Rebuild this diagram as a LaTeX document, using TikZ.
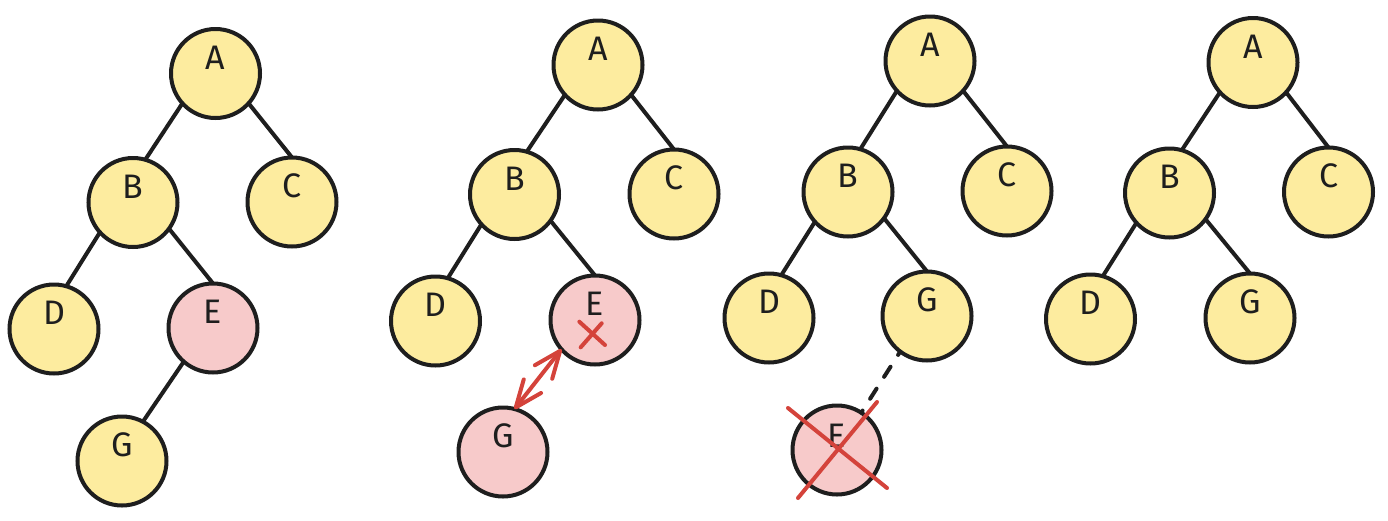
\documentclass[tikz,border=0pt]{standalone}
\usepackage{fontspec}
\setmainfont{Fira Sans}
\usetikzlibrary{arrows.meta}
\definecolor{ink}{HTML}{1E1E1E}
\definecolor{nodeyellow}{HTML}{FDEC9F}
\definecolor{nodepink}{HTML}{F7CACA}
\definecolor{markred}{HTML}{D4433B}
\tikzset{
  tnode/.style={circle, draw=ink, line width=4pt, minimum size=89pt, inner sep=0pt, outer sep=0pt,
    font=\fontsize{34}{40}\selectfont, text=ink, text height=24pt, text depth=32.6pt},
  yel/.style={tnode, fill=nodeyellow},
  pnk/.style={tnode, fill=nodepink},
  edge/.style={draw=ink, line width=4pt},
  gone/.style={draw=ink, line width=4pt, line cap=round, dash pattern=on 12pt off 14pt, dash phase=8pt},
  redmark/.style={draw=markred, line width=4pt, line cap=round},
  swap/.style={draw=markred, line width=4pt, line cap=round, line join=round,
    {Straight Barb[round, length=27pt, width=22pt]}-{Straight Barb[round, length=27pt, width=22pt]}}
}
\begin{document}
\begin{tikzpicture}[x=1pt,y=-1pt]
\useasboundingbox (0,0) rectangle (1388,520);
% ---------- tree 1
\node[yel] (A1) at (215.5,73.5) {A};
\node[yel] (B1) at (133,202.5) {B};
\node[yel] (C1) at (292,202) {C};
\node[yel] (D1) at (54,329) {D};
\node[pnk] (E1) at (213,328) {E};
\node[yel] (G1) at (122,461) {G};
\draw[edge] (A1.-138) -- (B1.74);
\draw[edge] (A1.-42) -- (C1.90);
\draw[edge] (B1.-138) -- (D1.74);
\draw[edge] (B1.-36) -- (E1.90);
\draw[edge] (E1.-131) -- (G1.62);
% ---------- tree 2
\node[yel] (A2) at (598,65) {A};
\node[yel] (B2) at (514.5,194.5) {B};
\node[yel] (C2) at (674,194) {C};
\node[yel] (D2) at (435.5,321) {D};
\node[pnk] (E2) at (595,320) {E};
\node[pnk] (G2) at (503,452) {G};
\draw[edge] (A2.-138) -- (B2.74);
\draw[edge] (A2.-42) -- (C2.90);
\draw[edge] (B2.-138) -- (D2.74);
\draw[edge] (B2.-36) -- (E2.90);
\draw[redmark] ([shift={(-15.7,1.7)}]E2.center) -- ([shift={(10,25)}]E2.center);
\draw[redmark] ([shift={(6.7,3.3)}]E2.center) -- ([shift={(-14.3,27.3)}]E2.center);
\draw[swap] (E2.-139) -- (G2.75);
% ---------- tree 3
\node[yel] (A3) at (930,61) {A};
\node[yel] (B3) at (848,192) {B};
\node[yel] (C3) at (1007,191) {C};
\node[yel] (D3) at (769,318) {D};
\node[yel] (G3) at (927,316) {G};
\node[pnk, text depth=30pt] (E3) at (837,450) {E};
\draw[edge] (A3.-138) -- (B3.74);
\draw[edge] (A3.-42) -- (C3.90);
\draw[edge] (B3.-138) -- (D3.74);
\draw[edge] (B3.-36) -- (G3.90);
\draw[gone] (G3.-127) -- (E3.57);
\draw[redmark] ([shift={(-49,-42)}]E3.center) -- ([shift={(50,38)}]E3.center);
\draw[redmark] ([shift={(40,-48)}]E3.center) -- ([shift={(-39,48)}]E3.center);
% ---------- tree 4
\node[yel] (A4) at (1253,62.5) {A};
\node[yel] (B4) at (1169.5,193) {B};
\node[yel] (C4) at (1328.5,192) {C};
\node[yel] (D4) at (1090.5,319) {D};
\node[yel] (G4) at (1250,318) {G};
\draw[edge] (A4.-138) -- (B4.74);
\draw[edge] (A4.-42) -- (C4.90);
\draw[edge] (B4.-138) -- (D4.74);
\draw[edge] (B4.-36) -- (G4.90);
\end{tikzpicture}
\end{document}
